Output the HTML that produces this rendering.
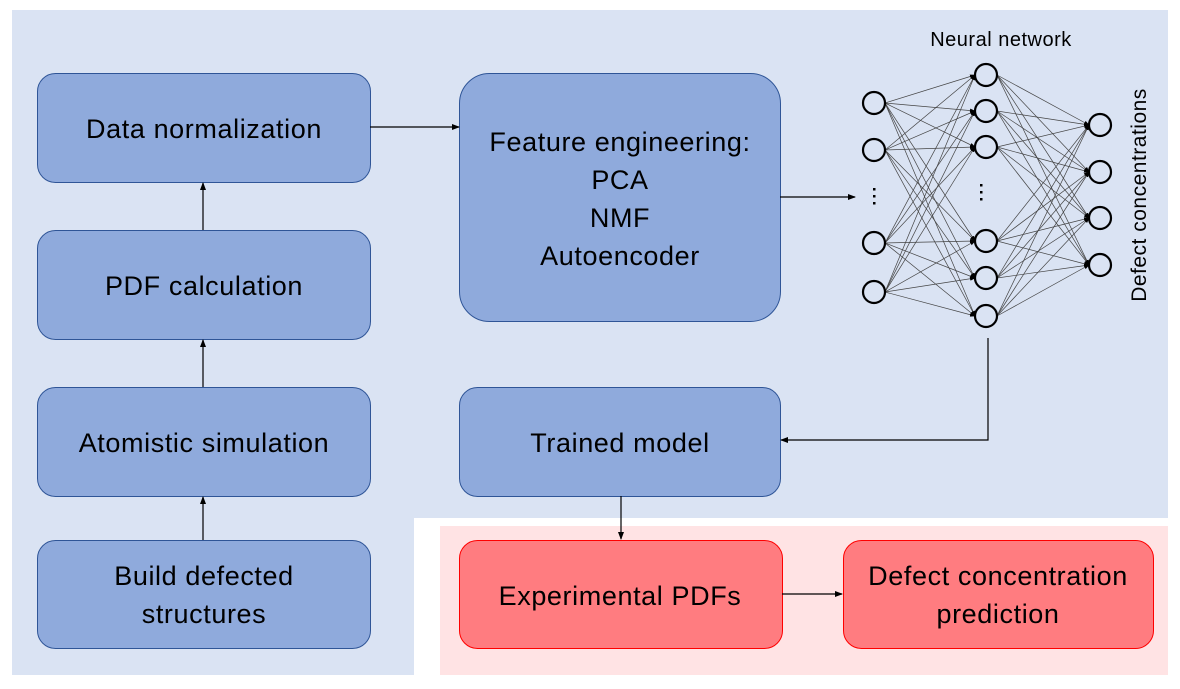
<!DOCTYPE html>
<html><head><meta charset="utf-8"><style>
body{margin:0;background:#fff}
svg{display:block}
text{font-family:"Liberation Sans",sans-serif;fill:#000}
</style></head><body>
<svg width="1180" height="689" viewBox="0 0 1180 689">
<defs><marker id="a" markerWidth="8" markerHeight="8" refX="7" refY="4" orient="auto" markerUnits="userSpaceOnUse"><path d="M0,1 L8,4 L0,7z" fill="#000"/></marker>
<marker id="s" markerWidth="6" markerHeight="6" refX="5" refY="3" orient="auto" markerUnits="userSpaceOnUse"><path d="M0,1 L6,3 L0,5z" fill="#000"/></marker></defs>
<rect x="12" y="10" width="1156" height="508" fill="#dae3f3"/>
<rect x="12" y="518" width="402" height="157" fill="#dae3f3"/>
<rect x="440" y="526" width="728" height="149" fill="#ffe3e4"/>
<g fill="#8faadc" stroke="#2f5597" stroke-width="1">
<rect x="37.5" y="73.5" width="333" height="109" rx="18"/>
<rect x="37.5" y="230.5" width="333" height="109" rx="18"/>
<rect x="37.5" y="387.5" width="333" height="109" rx="18"/>
<rect x="37.5" y="540.5" width="333" height="108" rx="18"/>
<rect x="459.5" y="73.5" width="321" height="248" rx="30"/>
<rect x="459.5" y="387.5" width="321" height="109" rx="18"/>
</g>
<g fill="#ff7c80" stroke="#ff0000" stroke-width="1">
<rect x="459.5" y="540.5" width="323" height="108" rx="18"/>
<rect x="843.5" y="540.5" width="310" height="108" rx="18"/>
</g>
<g font-size="27" text-anchor="middle" letter-spacing="0.6">
<text x="204" y="138">Data normalization</text>
<text x="204" y="295">PDF calculation</text>
<text x="204" y="452">Atomistic simulation</text>
<text x="204" y="585">Build defected</text>
<text x="204" y="623">structures</text>
<text x="620" y="151">Feature engineering:</text>
<text x="620" y="189">PCA</text>
<text x="620" y="227">NMF</text>
<text x="620" y="265">Autoencoder</text>
<text x="620" y="452">Trained model</text>
<text x="620" y="605">Experimental PDFs</text>
<text x="998" y="585">Defect concentration</text>
<text x="998" y="623">prediction</text>
</g>
<text x="1001" y="46" font-size="20" text-anchor="middle" letter-spacing="0.5">Neural network</text>
<text transform="translate(1146,195) rotate(-90)" font-size="21" text-anchor="middle" letter-spacing="0.5">Defect concentrations</text>
<g stroke="#000" stroke-width="1.2" fill="none" marker-end="url(#a)">
<path d="M370,127 H459"/>
<path d="M780,197 H855"/>
<path d="M988,338 V440 H781"/>
<path d="M621,496 V539"/>
<path d="M782,594 H842"/>
<path d="M203,230 V183"/>
<path d="M203,387 V340"/>
<path d="M203,540 V497"/>
</g>
<g stroke="#444" stroke-width="0.7" marker-end="url(#s)">
<path d="M885,103L975,75"/><path d="M885,103L975,111"/><path d="M885,103L975,147"/><path d="M885,103L975,241"/><path d="M885,103L975,278"/><path d="M885,103L975,316"/>
<path d="M885,150L975,75"/><path d="M885,150L975,111"/><path d="M885,150L975,147"/><path d="M885,150L975,241"/><path d="M885,150L975,278"/><path d="M885,150L975,316"/>
<path d="M885,243L975,75"/><path d="M885,243L975,111"/><path d="M885,243L975,147"/><path d="M885,243L975,241"/><path d="M885,243L975,278"/><path d="M885,243L975,316"/>
<path d="M885,292L975,75"/><path d="M885,292L975,111"/><path d="M885,292L975,147"/><path d="M885,292L975,241"/><path d="M885,292L975,278"/><path d="M885,292L975,316"/>
<path d="M997,75L1089,125"/><path d="M997,75L1089,172"/><path d="M997,75L1089,218"/><path d="M997,75L1089,265"/>
<path d="M997,111L1089,125"/><path d="M997,111L1089,172"/><path d="M997,111L1089,218"/><path d="M997,111L1089,265"/>
<path d="M997,147L1089,125"/><path d="M997,147L1089,172"/><path d="M997,147L1089,218"/><path d="M997,147L1089,265"/>
<path d="M997,241L1089,125"/><path d="M997,241L1089,172"/><path d="M997,241L1089,218"/><path d="M997,241L1089,265"/>
<path d="M997,278L1089,125"/><path d="M997,278L1089,172"/><path d="M997,278L1089,218"/><path d="M997,278L1089,265"/>
<path d="M997,316L1089,125"/><path d="M997,316L1089,172"/><path d="M997,316L1089,218"/><path d="M997,316L1089,265"/>
</g>
<g fill="#dae3f3" stroke="#000" stroke-width="2.2">
<circle cx="874" cy="103" r="11"/><circle cx="874" cy="150" r="11"/><circle cx="874" cy="243" r="11"/><circle cx="874" cy="292" r="11"/>
<circle cx="986" cy="75" r="11"/><circle cx="986" cy="111" r="11"/><circle cx="986" cy="147" r="11"/><circle cx="986" cy="241" r="11"/><circle cx="986" cy="278" r="11"/><circle cx="986" cy="316" r="11"/>
<circle cx="1100" cy="125" r="11"/><circle cx="1100" cy="172" r="11"/><circle cx="1100" cy="218" r="11"/><circle cx="1100" cy="265" r="11"/>
</g>
<g fill="#000">
<rect x="873" y="188" width="2.5" height="2.5"/><rect x="873" y="195" width="2.5" height="2.5"/><rect x="873" y="202" width="2.5" height="2.5"/>
<rect x="980" y="184" width="2.5" height="2.5"/><rect x="980" y="191" width="2.5" height="2.5"/><rect x="980" y="198" width="2.5" height="2.5"/>
</g>
</svg>
</body></html>
